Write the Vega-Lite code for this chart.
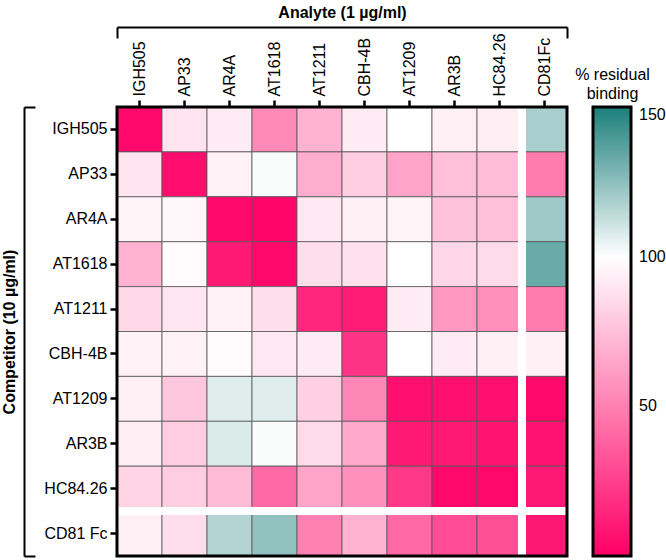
{
  "$schema": "https://vega.github.io/schema/vega-lite/v6.json",
  "width": 450,
  "height": 449,
  "padding": {"left": 1, "top": 4, "right": 5, "bottom": 5},
  "config": {
    "view": {"stroke": null},
    "font": "Liberation Sans",
    "axis": {"labelColor": "black", "titleColor": "black", "tickColor": "black", "domainColor": "black", "grid": false}
  },
  "datasets": {
    "cells": [
      {"c": "IGH505", "a": "IGH505", "v": 4}, {"c": "IGH505", "a": "AP33", "v": 89}, {"c": "IGH505", "a": "AR4A", "v": 92}, {"c": "IGH505", "a": "AT1618", "v": 54}, {"c": "IGH505", "a": "AT1211", "v": 70}, {"c": "IGH505", "a": "CBH-4B", "v": 92}, {"c": "IGH505", "a": "AT1209", "v": 100}, {"c": "IGH505", "a": "AR3B", "v": 94}, {"c": "IGH505", "a": "HC84.26", "v": 93}, {"c": "IGH505", "a": "CD81Fc", "v": 119},
      {"c": "AP33", "a": "IGH505", "v": 89}, {"c": "AP33", "a": "AP33", "v": 5}, {"c": "AP33", "a": "AR4A", "v": 95}, {"c": "AP33", "a": "AT1618", "v": 101}, {"c": "AP33", "a": "AT1211", "v": 68}, {"c": "AP33", "a": "CBH-4B", "v": 80}, {"c": "AP33", "a": "AT1209", "v": 64}, {"c": "AP33", "a": "AR3B", "v": 75}, {"c": "AP33", "a": "HC84.26", "v": 74}, {"c": "AP33", "a": "CD81Fc", "v": 48},
      {"c": "AR4A", "a": "IGH505", "v": 96}, {"c": "AR4A", "a": "AP33", "v": 97}, {"c": "AR4A", "a": "AR4A", "v": 3}, {"c": "AR4A", "a": "AT1618", "v": 2}, {"c": "AR4A", "a": "AT1211", "v": 91}, {"c": "AR4A", "a": "CBH-4B", "v": 94}, {"c": "AR4A", "a": "AT1209", "v": 96}, {"c": "AR4A", "a": "AR3B", "v": 76}, {"c": "AR4A", "a": "HC84.26", "v": 75}, {"c": "AR4A", "a": "CD81Fc", "v": 121},
      {"c": "AT1618", "a": "IGH505", "v": 70}, {"c": "AT1618", "a": "AP33", "v": 98}, {"c": "AT1618", "a": "AR4A", "v": 10}, {"c": "AT1618", "a": "AT1618", "v": 3}, {"c": "AT1618", "a": "AT1211", "v": 87}, {"c": "AT1618", "a": "CBH-4B", "v": 88}, {"c": "AT1618", "a": "AT1209", "v": 100}, {"c": "AT1618", "a": "AR3B", "v": 84}, {"c": "AT1618", "a": "HC84.26", "v": 86}, {"c": "AT1618", "a": "CD81Fc", "v": 133},
      {"c": "AT1211", "a": "IGH505", "v": 85}, {"c": "AT1211", "a": "AP33", "v": 90}, {"c": "AT1211", "a": "AR4A", "v": 95}, {"c": "AT1211", "a": "AT1618", "v": 87}, {"c": "AT1211", "a": "AT1211", "v": 15}, {"c": "AT1211", "a": "CBH-4B", "v": 11}, {"c": "AT1211", "a": "AT1209", "v": 92}, {"c": "AT1211", "a": "AR3B", "v": 60}, {"c": "AT1211", "a": "HC84.26", "v": 56}, {"c": "AT1211", "a": "CD81Fc", "v": 48},
      {"c": "CBH-4B", "a": "IGH505", "v": 95}, {"c": "CBH-4B", "a": "AP33", "v": 95}, {"c": "CBH-4B", "a": "AR4A", "v": 98}, {"c": "CBH-4B", "a": "AT1618", "v": 91}, {"c": "CBH-4B", "a": "AT1211", "v": 92}, {"c": "CBH-4B", "a": "CBH-4B", "v": 20}, {"c": "CBH-4B", "a": "AT1209", "v": 100}, {"c": "CBH-4B", "a": "AR3B", "v": 92}, {"c": "CBH-4B", "a": "HC84.26", "v": 94}, {"c": "CBH-4B", "a": "CD81Fc", "v": 94},
      {"c": "AT1209", "a": "IGH505", "v": 94}, {"c": "AT1209", "a": "AP33", "v": 78}, {"c": "AT1209", "a": "AR4A", "v": 107}, {"c": "AT1209", "a": "AT1618", "v": 107}, {"c": "AT1209", "a": "AT1211", "v": 81}, {"c": "AT1209", "a": "CBH-4B", "v": 53}, {"c": "AT1209", "a": "AT1209", "v": 6}, {"c": "AT1209", "a": "AR3B", "v": 6}, {"c": "AT1209", "a": "HC84.26", "v": 6}, {"c": "AT1209", "a": "CD81Fc", "v": 3},
      {"c": "AR3B", "a": "IGH505", "v": 93}, {"c": "AR3B", "a": "AP33", "v": 80}, {"c": "AR3B", "a": "AR4A", "v": 108}, {"c": "AR3B", "a": "AT1618", "v": 101}, {"c": "AR3B", "a": "AT1211", "v": 86}, {"c": "AR3B", "a": "CBH-4B", "v": 66}, {"c": "AR3B", "a": "AT1209", "v": 10}, {"c": "AR3B", "a": "AR3B", "v": 10}, {"c": "AR3B", "a": "HC84.26", "v": 8}, {"c": "AR3B", "a": "CD81Fc", "v": 7},
      {"c": "HC84.26", "a": "IGH505", "v": 83}, {"c": "HC84.26", "a": "AP33", "v": 80}, {"c": "HC84.26", "a": "AR4A", "v": 73}, {"c": "HC84.26", "a": "AT1618", "v": 41}, {"c": "HC84.26", "a": "AT1211", "v": 64}, {"c": "HC84.26", "a": "CBH-4B", "v": 56}, {"c": "HC84.26", "a": "AT1209", "v": 22}, {"c": "HC84.26", "a": "AR3B", "v": 3}, {"c": "HC84.26", "a": "HC84.26", "v": 3}, {"c": "HC84.26", "a": "CD81Fc", "v": 10},
      {"c": "CD81 Fc", "a": "IGH505", "v": 94}, {"c": "CD81 Fc", "a": "AP33", "v": 87}, {"c": "CD81 Fc", "a": "AR4A", "v": 117}, {"c": "CD81 Fc", "a": "AT1618", "v": 124}, {"c": "CD81 Fc", "a": "AT1211", "v": 50}, {"c": "CD81 Fc", "a": "CBH-4B", "v": 70}, {"c": "CD81 Fc", "a": "AT1209", "v": 41}, {"c": "CD81 Fc", "a": "AR3B", "v": 30}, {"c": "CD81 Fc", "a": "HC84.26", "v": 31}, {"c": "CD81 Fc", "a": "CD81Fc", "v": 9}
    ]
  },
  "layer": [
    {
      "data": {"name": "cells"},
      "mark": {"type": "rect", "stroke": "#555555", "strokeWidth": 0.8},
      "encoding": {
        "x": {
          "field": "a", "type": "nominal",
          "scale": {"type": "band", "domain": ["IGH505", "AP33", "AR4A", "AT1618", "AT1211", "CBH-4B", "AT1209", "AR3B", "HC84.26", "CD81Fc"], "paddingInner": 0, "paddingOuter": 0},
          "axis": {"orient": "top", "title": null, "domain": false, "labelAngle": -90, "labelFontSize": 16, "labelPadding": 4, "tickSize": 7, "tickWidth": 2.5}
        },
        "y": {
          "field": "c", "type": "nominal",
          "scale": {"type": "band", "domain": ["IGH505", "AP33", "AR4A", "AT1618", "AT1211", "CBH-4B", "AT1209", "AR3B", "HC84.26", "CD81 Fc"], "paddingInner": 0, "paddingOuter": 0},
          "axis": {"orient": "left", "title": null, "domain": false, "labelFontSize": 16, "labelPadding": 3, "tickSize": 7, "tickWidth": 2.5}
        },
        "color": {
          "field": "v", "type": "quantitative",
          "scale": {"domain": [0, 100, 150], "range": ["#ff0066", "#ffffff", "#1b7f7b"], "interpolate": "rgb"},
          "legend": {
            "orient": "none", "legendX": 476, "legendY": 0,
            "direction": "vertical",
            "title": null,
            "gradientLength": 449, "gradientThickness": 38,
            "gradientStrokeColor": "black", "gradientStrokeWidth": 3,
            "values": [50, 100, 150],
            "labelFontSize": 16, "labelColor": "black", "labelOffset": 8
          }
        }
      }
    },
    {
      "data": {"values": [{"a": "CD81Fc"}]},
      "mark": {"type": "rule", "color": "white", "strokeWidth": 8},
      "encoding": {
        "x": {
          "field": "a", "type": "nominal", "bandPosition": 0,
          "scale": {"type": "band", "domain": ["IGH505", "AP33", "AR4A", "AT1618", "AT1211", "CBH-4B", "AT1209", "AR3B", "HC84.26", "CD81Fc"], "paddingInner": 0, "paddingOuter": 0},
          "axis": null
        }
      }
    },
    {
      "data": {"values": [{"c": "CD81 Fc"}]},
      "mark": {"type": "rule", "color": "white", "strokeWidth": 8},
      "encoding": {
        "y": {
          "field": "c", "type": "nominal", "bandPosition": 0,
          "scale": {"type": "band", "domain": ["IGH505", "AP33", "AR4A", "AT1618", "AT1211", "CBH-4B", "AT1209", "AR3B", "HC84.26", "CD81 Fc"], "paddingInner": 0, "paddingOuter": 0},
          "axis": null
        }
      }
    },
    {
      "data": {"values": [{"f": 1}]},
      "mark": {"type": "rect", "fill": "transparent", "stroke": "black", "strokeWidth": 3},
      "encoding": {}
    },
    {
      "data": {"values": [{"f": 1}]},
      "mark": {"type": "point", "opacity": 0, "size": 1},
      "encoding": {
        "x": {
          "datum": 0, "type": "quantitative",
          "scale": {"domain": [0, 1], "nice": false, "zero": false},
          "axis": {"orient": "top", "offset": 80, "values": [0, 1], "labels": false, "tickSize": -11, "tickWidth": 2, "domainWidth": 2,
                   "title": "Analyte (1 µg/ml)", "titleFontSize": 16, "titleFontWeight": "bold", "titlePadding": 6}
        },
        "y": {
          "datum": 0, "type": "quantitative",
          "scale": {"domain": [0, 1], "nice": false, "zero": false},
          "axis": {"orient": "left", "offset": 93, "values": [0, 1], "labels": false, "tickSize": -11, "tickWidth": 2, "domainWidth": 2,
                   "title": "Competitor (10 µg/ml)", "titleFontSize": 16, "titleFontWeight": "bold", "titlePadding": 6}
        }
      }
    },
    {
      "data": {"values": [{"f": 1}]},
      "mark": {"type": "point", "opacity": 0, "size": 1},
      "encoding": {
        "y": {
          "datum": 0, "type": "quantitative",
          "scale": {"domain": [0, 1], "nice": false, "zero": false},
          "axis": {"orient": "right", "domain": false, "ticks": false, "labels": false,
                   "title": ["% residual", "binding"], "titleAngle": 0, "titleX": 45, "titleY": -41,
                   "titleAlign": "center", "titleBaseline": "top", "titleLineHeight": 19,
                   "titleFontSize": 16, "titleFontWeight": "normal"}
        }
      }
    }
  ],
  "resolve": {
    "scale": {"x": "independent", "y": "independent"},
    "axis": {"x": "independent", "y": "independent"}
  }
}
